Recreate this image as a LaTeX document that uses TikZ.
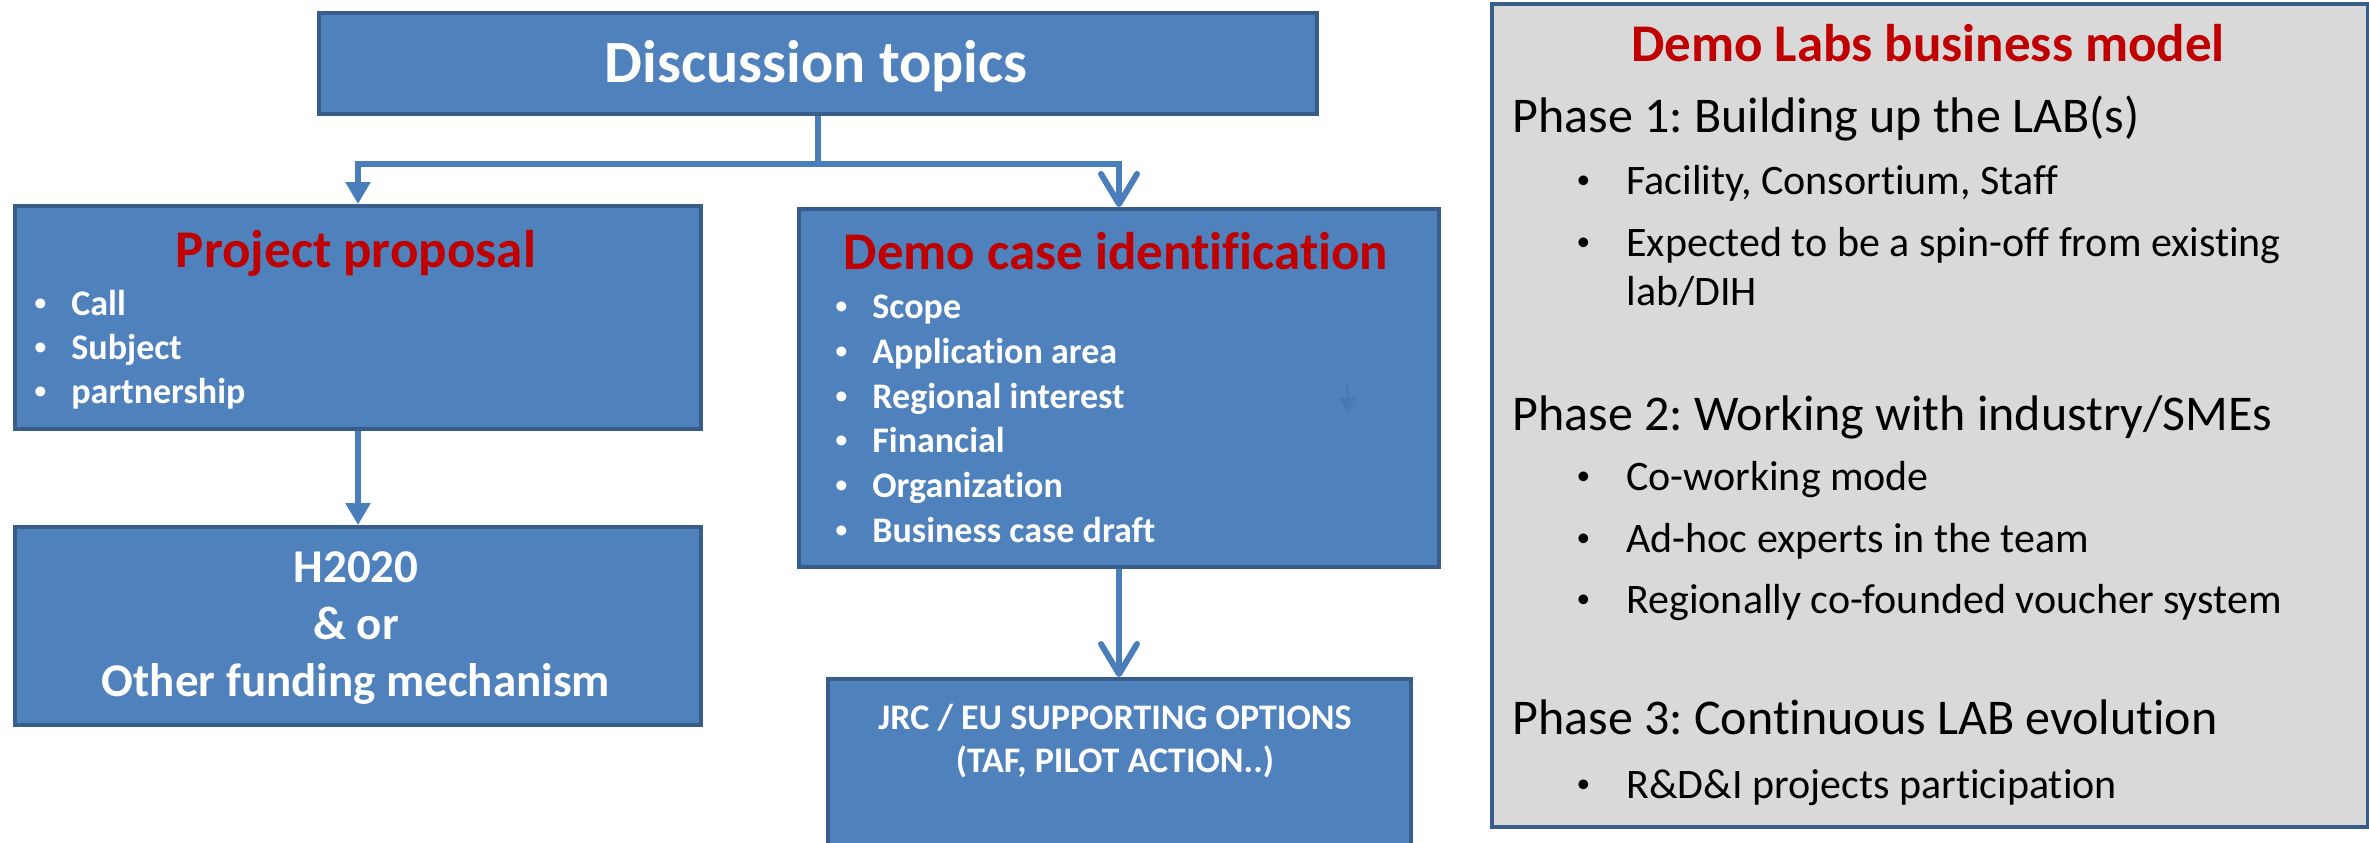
\documentclass[tikz,border=0pt]{standalone}
\usepackage{graphicx}
\usepackage{fontspec}
\setmainfont{Carlito}[Ligatures=NoCommon]
\usetikzlibrary{arrows.meta}
\frenchspacing

\definecolor{boxblue}{RGB}{79,129,189}
\definecolor{boxline}{RGB}{56,93,138}
\definecolor{linkblue}{RGB}{74,126,187}
\definecolor{titlered}{RGB}{192,0,0}
\definecolor{panelgray}{RGB}{217,217,217}

\newcommand{\smallbul}{\raisebox{0.12em}{\scalebox{0.65}{\textbullet}}}
\newcommand{\lbul}[1]{\makebox[9pt][c]{\smallbul}\hspace{11pt}#1}
\newcommand{\rbul}[1]{\makebox[10pt][c]{\smallbul}\hspace{16.5pt}#1}

\begin{document}
\begin{tikzpicture}[x=0.5pt, y=-0.5pt,
    box/.style={draw=boxline, line width=2pt, fill=boxblue, anchor=north west, inner sep=0pt},
    panel/.style={draw=boxline, line width=2pt, fill=panelgray, anchor=north west, inner sep=0pt},
    link/.style={draw=linkblue, line width=3pt},
    filltip/.style={-{Triangle[width=12pt,length=11pt]}},
    opentip/.style={-{Straight Barb[width=18pt,length=15pt,round]}},
    txt/.style={inner sep=0pt, anchor=base west},
    bigtitle/.style={inner sep=0pt, anchor=base, text=white, font=\fontsize{30pt}{36pt}\selectfont\bfseries},
    redtitle/.style={inner sep=0pt, anchor=base, text=titlered, font=\fontsize{26.5pt}{32pt}\selectfont\bfseries},
    boxitem/.style={txt, text=white, font=\fontsize{18pt}{22pt}\selectfont\bfseries},
    phase/.style={txt, font=\fontsize{25pt}{30pt}\selectfont},
    subitem/.style={txt, font=\fontsize{21pt}{25pt}\selectfont}]

\useasboundingbox (0,0) rectangle (2369,842);

% left side boxes
\node[box, minimum width=499pt, minimum height=50.5pt] (disc) at (317,11) {};
\node[box, minimum width=343pt, minimum height=111.5pt] (pp) at (13,204) {};
\node[box, minimum width=320pt, minimum height=179pt] (dci) at (797,207) {};
\node[box, minimum width=343pt, minimum height=99pt] (h2020) at (13,525) {};
\node[box, minimum width=291.5pt, minimum height=90pt] (jrc) at (826,677) {};

% right side panel
\node[panel, minimum width=438pt, minimum height=411.5pt] (bm) at (1490,2) {};

% texts of the boxes
\node[bigtitle] (disc title) at (816,82) {Discussion topics};

\node[redtitle] (pp title) at (356,267) {Project proposal};
\node[boxitem] (pp call) at (31,315) {\lbul{Call}};
\node[boxitem] (pp subject) at (31,359) {\lbul{Subject}};
\node[boxitem] (pp partner) at (31,403) {\lbul{partnership}};

\node[redtitle] (dci title) at (1116,269) {Demo case identification};
\node[boxitem] (dci scope) at (832,318) {\lbul{Scope}};
\node[boxitem] (dci area) at (832,363) {\lbul{Application area}};
\node[boxitem] (dci region) at (832,408) {\lbul{Regional interest}};
\node[boxitem] (dci fin) at (832,452) {\lbul{Financial}};
\node[boxitem] (dci org) at (832,497) {\lbul{Organization}};
\node[boxitem] (dci draft) at (832,542) {\lbul{Business case draft}};

\node[text=white, align=center, font=\fontsize{23.5pt}{28.5pt}\selectfont\bfseries] (h2020 text) at (356,628) {H2020\\\& or\\Other funding mechanism};

\node[text=white, align=center, font=\fontsize{18pt}{21.5pt}\selectfont\bfseries] (jrc text) at (1115,741) {JRC / EU SUPPORTING OPTIONS\\(TAF, PILOT ACTION..)};

% business model panel
\node[redtitle] (bm title) at (1928,61) {Demo Labs business model};
\node[phase] (ph1) at (1512,132) {Phase 1: Building up the LAB(s)};
\node[subitem] (ph1 a) at (1573,194) {\rbul{Facility, Consortium, Staff}};
\node[subitem] (ph1 b) at (1573,256) {\rbul{Expected to be a spin-off from existing}};
\node[subitem] (ph1 c) at (1626,305) {lab/DIH};
\node[phase] (ph2) at (1512,430) {Phase 2: Working with industry/SMEs};
\node[subitem] (ph2 a) at (1573,490) {\rbul{Co-working mode}};
\node[subitem] (ph2 b) at (1573,552) {\rbul{Ad-hoc experts in the team}};
\node[subitem] (ph2 c) at (1573,613) {\rbul{Regionally co-founded voucher system}};
\node[phase] (ph3) at (1512,734) {Phase 3: Continuous LAB evolution};
\node[subitem] (ph3 a) at (1573,798) {\rbul{R\&D\&I projects participation}};

% connectors
\draw[link] (disc.south) -- ++(0,48) coordinate (fork);
\draw[link, filltip] (fork) -| (pp.north);
\draw[link, opentip] (fork) -| (dci.north);
\draw[link, filltip] (pp.south) -- (h2020.north);
\draw[link, opentip] (dci.south) -- (dci.south |- jrc.north);

% faint arrow left inside the demo case box
\coordinate (ghost top) at (1347,383);
\coordinate (ghost tip) at (1347,412);
\draw[draw={rgb,255:red,72;green,121;blue,183}, line width=1.5pt, -{Triangle[width=8pt,length=7pt]}] (ghost top) -- (ghost tip);

\end{tikzpicture}
\end{document}
